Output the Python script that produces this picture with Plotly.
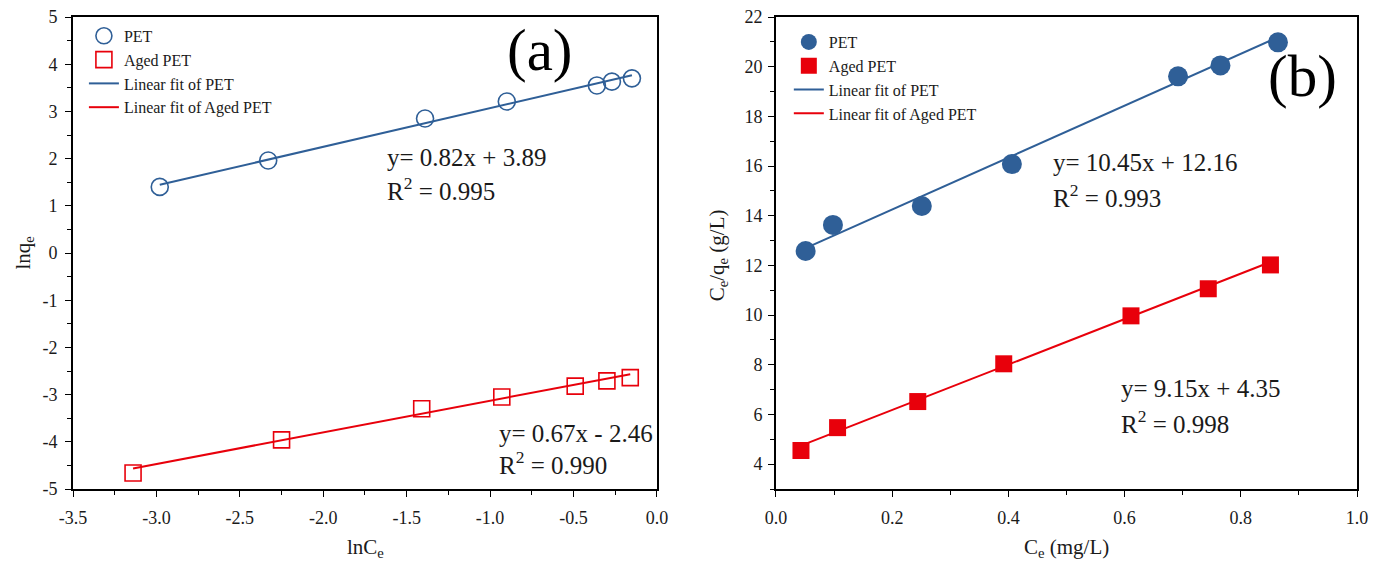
import plotly.graph_objects as go

# ---------------- Data: panel (a) Freundlich ----------------
lnCe_pet = [-2.98, -2.33, -1.39, -0.90, -0.36, -0.27, -0.15]
lnqe_pet = [1.40, 1.96, 2.85, 3.21, 3.55, 3.63, 3.70]
lnCe_aged = [-3.14, -2.25, -1.41, -0.93, -0.49, -0.30, -0.16]
lnqe_aged = [-4.66, -3.96, -3.30, -3.05, -2.82, -2.71, -2.64]
fit_a_pet = [0.82, 3.89]      # slope, intercept
fit_a_aged = [0.67, -2.46]

# ---------------- Data: panel (b) Langmuir ----------------
Ce_pet = [0.051, 0.098, 0.251, 0.406, 0.692, 0.765, 0.864]
Ceqe_pet = [12.58, 13.63, 14.39, 16.08, 19.61, 20.05, 20.98]
Ce_aged = [0.043, 0.106, 0.244, 0.392, 0.611, 0.744, 0.851]
Ceqe_aged = [4.55, 5.47, 6.52, 8.04, 9.97, 11.06, 12.02]
fit_b_pet = [10.45, 12.16]
fit_b_aged = [9.15, 4.35]

# ---------------- Tick labels ----------------
xa_ticks = [-3.5, -3.0, -2.5, -2.0, -1.5, -1.0, -0.5, 0.0]
xa_text = ["-3.5", "-3.0", "-2.5", "-2.0", "-1.5", "-1.0", "-0.5", "0.0"]
ya_ticks = [-5, -4, -3, -2, -1, 0, 1, 2, 3, 4, 5]
ya_text = ["-5", "-4", "-3", "-2", "-1", "0", "1", "2", "3", "4", "5"]
xb_ticks = [0.0, 0.2, 0.4, 0.6, 0.8, 1.0]
xb_text = ["0.0", "0.2", "0.4", "0.6", "0.8", "1.0"]
yb_ticks = [4, 6, 8, 10, 12, 14, 16, 18, 20, 22]
yb_text = ["4", "6", "8", "10", "12", "14", "16", "18", "20", "22"]

BLUE = "#2F5F97"
RED = "#E8000B"
FONT = "Liberation Serif"
TXT = "#1a1a1a"


def fit_line(xs, coef):
    x0, x1 = xs[0], xs[-1]
    return [x0, x1], [coef[0] * x0 + coef[1], coef[0] * x1 + coef[1]]


fig = go.Figure()

# ---- panel (a) ----
fx, fy = fit_line(lnCe_pet, fit_a_pet)
fig.add_trace(go.Scatter(x=fx, y=fy, mode="lines", name="Linear fit of PET",
                         line=dict(color=BLUE, width=2), legendrank=3,
                         xaxis="x", yaxis="y", legend="legend"))
fx, fy = fit_line(lnCe_aged, fit_a_aged)
fig.add_trace(go.Scatter(x=fx, y=fy, mode="lines", name="Linear fit of Aged PET",
                         line=dict(color=RED, width=2), legendrank=4,
                         xaxis="x", yaxis="y", legend="legend"))
fig.add_trace(go.Scatter(x=lnCe_pet, y=lnqe_pet, mode="markers", name="PET",
                         marker=dict(symbol="circle-open", size=17, color=BLUE,
                                     line=dict(width=1.6, color=BLUE)),
                         legendrank=1, xaxis="x", yaxis="y", legend="legend"))
fig.add_trace(go.Scatter(x=lnCe_aged, y=lnqe_aged, mode="markers", name="Aged PET",
                         marker=dict(symbol="square-open", size=16, color=RED,
                                     line=dict(width=1.6, color=RED)),
                         legendrank=2, xaxis="x", yaxis="y", legend="legend"))

# ---- panel (b) ----
fx, fy = fit_line(Ce_pet, fit_b_pet)
fig.add_trace(go.Scatter(x=fx, y=fy, mode="lines", name="Linear fit of PET",
                         line=dict(color=BLUE, width=2), legendrank=3,
                         xaxis="x2", yaxis="y2", legend="legend2"))
fx, fy = fit_line(Ce_aged, fit_b_aged)
fig.add_trace(go.Scatter(x=fx, y=fy, mode="lines", name="Linear fit of Aged PET",
                         line=dict(color=RED, width=2), legendrank=4,
                         xaxis="x2", yaxis="y2", legend="legend2"))
fig.add_trace(go.Scatter(x=Ce_pet, y=Ceqe_pet, mode="markers", name="PET",
                         marker=dict(symbol="circle", size=20, color=BLUE),
                         legendrank=1, xaxis="x2", yaxis="y2", legend="legend2"))
fig.add_trace(go.Scatter(x=Ce_aged, y=Ceqe_aged, mode="markers", name="Aged PET",
                         marker=dict(symbol="square", size=17, color=RED),
                         legendrank=2, xaxis="x2", yaxis="y2", legend="legend2"))

axis_common = dict(showline=True, linecolor="black", linewidth=1.6, mirror=True,
                   ticks="outside", ticklen=6, tickwidth=1.4, tickcolor="black",
                   showgrid=False, zeroline=False, automargin=False,
                   ticklabeloverflow="allow",
                   tickfont=dict(family=FONT, size=18, color=TXT))

# the page body adds an 8 px offset, so the figure is 8 px smaller and the
# margins are reduced by the same amount to land the axes where they belong
fig.update_layout(
    width=1370, height=559,
    margin=dict(l=65, r=21, t=9, b=78, autoexpand=False),
    paper_bgcolor="white", plot_bgcolor="white",
    font=dict(family=FONT, color=TXT, size=16),
    xaxis=dict(domain=[0, 0.4548], range=[-3.5, 0], tickmode="array",
               tickvals=xa_ticks, ticktext=xa_text, ticklabelstandoff=6,
               minor=dict(tickmode="linear", tick0=-3.25, dtick=0.5, ticklen=4,
                          ticks="outside", tickcolor="black"),
               anchor="y", **axis_common),
    yaxis=dict(domain=[0, 1], range=[-5, 5], tickmode="array",
               tickvals=ya_ticks, ticktext=ya_text, ticklabelstandoff=4,
               minor=dict(tickmode="linear", tick0=-4.5, dtick=1, ticklen=4,
                          ticks="outside", tickcolor="black"),
               anchor="x", **axis_common),
    xaxis2=dict(domain=[0.5475, 1], range=[0, 1], tickmode="array",
                tickvals=xb_ticks, ticktext=xb_text, ticklabelstandoff=6,
                minor=dict(tickmode="linear", tick0=0.1, dtick=0.2, ticklen=4,
                           ticks="outside", tickcolor="black"),
                anchor="y2", **axis_common),
    yaxis2=dict(domain=[0, 1], range=[3, 22], tickmode="array",
                tickvals=yb_ticks, ticktext=yb_text, ticklabelstandoff=2,
                minor=dict(tickmode="linear", tick0=5, dtick=2, ticklen=4,
                           ticks="outside", tickcolor="black"),
                anchor="x2", **axis_common),
    legend=dict(x=0.0085, y=0.996, xanchor="left", yanchor="top",
                bgcolor="rgba(0,0,0,0)", borderwidth=0, tracegroupgap=0,
                font=dict(family=FONT, size=16, color=TXT)),
    legend2=dict(x=0.5575, y=0.983, xanchor="left", yanchor="top",
                 bgcolor="rgba(0,0,0,0)", borderwidth=0, tracegroupgap=0,
                 font=dict(family=FONT, size=16, color=TXT)),
)

ann_font = dict(family=FONT, size=25, color=TXT)
annotations = [
    ("y= 0.82x + 3.89", 0.2430, 0.703),
    ("R<sup>2</sup> = 0.995", 0.2430, 0.636),
    ("y= 0.67x - 2.46", 0.330, 0.1186),
    ("R<sup>2</sup> = 0.990", 0.330, 0.055),
    ("y= 10.45x + 12.16", 0.7615, 0.6907),
    ("R<sup>2</sup> = 0.993", 0.7615, 0.6208),
    ("y= 9.15x + 4.35", 0.8145, 0.2119),
    ("R<sup>2</sup> = 0.998", 0.8145, 0.1419),
]
for text, ax, ay in annotations:
    fig.add_annotation(text=text, x=ax, y=ay, xref="paper", yref="paper",
                       xanchor="left", yanchor="middle", showarrow=False,
                       font=ann_font)

# panel labels
fig.add_annotation(text="(a)", x=0.3637, y=0.930, xref="paper", yref="paper",
                   xanchor="center", yanchor="middle", showarrow=False,
                   font=dict(family=FONT, size=59, color="black"))
fig.add_annotation(text="(b)", x=0.9575, y=0.875, xref="paper", yref="paper",
                   xanchor="center", yanchor="middle", showarrow=False,
                   font=dict(family=FONT, size=59, color="black"))

# axis titles
title_font = dict(family=FONT, size=21, color=TXT)
fig.add_annotation(text="lnC<sub>e</sub>", x=0.2275, y=-0.125, xref="paper",
                   yref="paper", xanchor="center", yanchor="middle",
                   showarrow=False, font=title_font)
fig.add_annotation(text="C<sub>e</sub> (mg/L)", x=0.7735, y=-0.125, xref="paper",
                   yref="paper", xanchor="center", yanchor="middle",
                   showarrow=False, font=title_font)
fig.add_annotation(text="lnq<sub>e</sub>", x=-0.0385, y=0.5, xref="paper",
                   yref="paper", xanchor="center", yanchor="middle",
                   textangle=-90, showarrow=False, font=title_font)
fig.add_annotation(text="C<sub>e</sub>/q<sub>e</sub> (g/L)", x=0.5023, y=0.495,
                   xref="paper", yref="paper", xanchor="center", yanchor="middle",
                   textangle=-90, showarrow=False, font=title_font)

fig.write_html("out.html")
